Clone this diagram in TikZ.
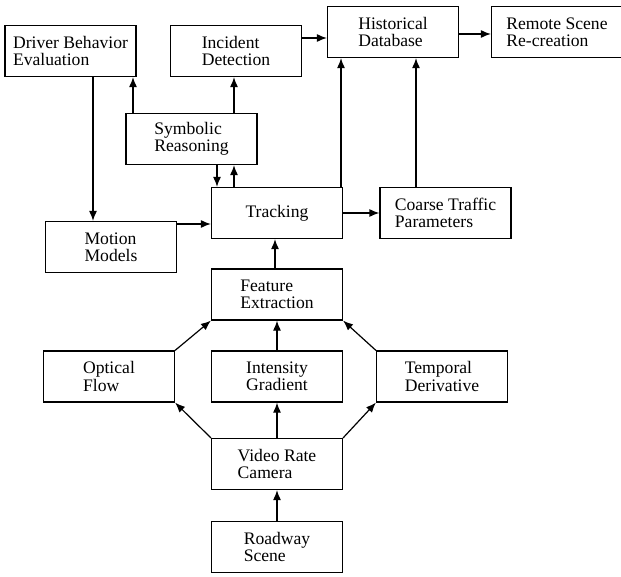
\documentclass[tikz,border=0pt]{standalone}
\usepackage{fontspec}
\setmainfont{Liberation Serif}
\usetikzlibrary{arrows.meta,calc}
\begin{document}
\begin{tikzpicture}[x=1pt,y=-1pt,
  box/.style={draw,line width=1.2pt,minimum width=131pt,minimum height=51pt,inner sep=0pt,align=left,
    font=\fontsize{17.6pt}{17.3pt}\selectfont},
  arr/.style={line width=1.2pt,-{Latex[length=10pt,width=8pt]}}]
\useasboundingbox (0,0) rectangle (621,577);
\node[box] (dbe) at (70.5,51) {Driver Behavior\\Evaluation};
\node[box] (id) at (236,51) {Incident\\Detection};
\node[box] (sr) at (191.5,139) {Symbolic\\Reasoning};
\node[box] (hd) at (393,32) {Historical\\Database};
\node[box] (rs) at (557,32) {Remote Scene\\Re-creation};
\node[box] (tr) at (277,213) {Tracking};
\node[box] (ctp) at (445.5,213) {Coarse Traffic\\Parameters};
\node[box] (mm) at (111,247) {Motion\\Models};
\node[box] (fe) at (277,294.5) {Feature\\Extraction};
\node[box] (of) at (109,376.5) {Optical\\Flow};
\node[box] (ig) at (277,376.5) {Intensity\\Gradient};
\node[box] (td) at (442,376.5) {Temporal\\Derivative};
\node[box] (vrc) at (277,464) {Video Rate\\Camera};
\node[box] (road) at (277,547) {Roadway\\Scene};
% arrows
\draw[arr] ([xshift=-58.5pt]sr.north) -- ([xshift=-58.5pt]sr.north |- dbe.south);
\draw[arr] ([xshift=42.5pt]sr.north) -- ([xshift=42.5pt]sr.north |- id.south);
\draw[arr] ([xshift=25.5pt]sr.south) -- ([xshift=25.5pt]sr.south |- tr.north);
\draw[arr] ([xshift=42.5pt]sr.south |- tr.north) -- ([xshift=42.5pt]sr.south);
\draw[arr] ([yshift=13pt]id.east) -- ([yshift=13pt]id.east -| hd.west);
\draw[arr] ([yshift=-2pt]hd.east) -- ([yshift=-2pt]hd.east -| rs.west);
\draw[arr] ([xshift=64pt]tr.north) -- ([xshift=64pt]tr.north |- hd.south);
\draw[arr] ([xshift=-29.5pt]ctp.north) -- ([xshift=-29.5pt]ctp.north |- hd.south);
\draw[arr] (tr.east) -- (ctp.west);
\draw[arr] ([xshift=22.5pt]dbe.south) -- ([xshift=22.5pt]dbe.south |- mm.north);
\draw[arr] ([yshift=23pt]mm.east) -- ([yshift=23pt]mm.east -| tr.west);
\draw[arr] ([xshift=-2pt]fe.north) -- ([xshift=-2pt]fe.north |- tr.south);
\draw[arr] (ig.north) -- (fe.south);
\draw[arr] (of.north east) -- (fe.south west);
\draw[arr] (td.north west) -- (fe.south east);
\draw[arr] (vrc.north west) -- (of.south east);
\draw[arr] (vrc.north east) -- (td.south west);
\draw[arr] (vrc.north) -- (ig.south);
\draw[arr] (road.north) -- (vrc.south);
\end{tikzpicture}
\end{document}
